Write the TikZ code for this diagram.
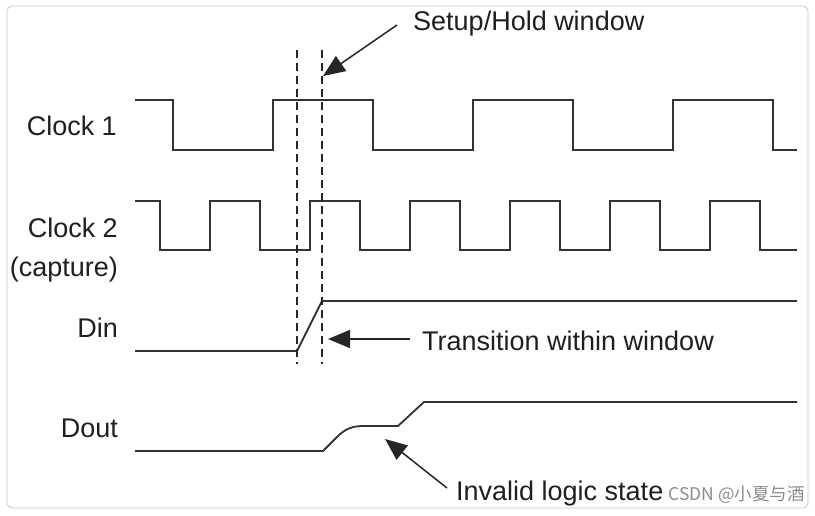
\documentclass[tikz,border=0pt]{standalone}
\usepackage{fontspec}
\setmainfont{Liberation Sans}
\newfontfamily\cjkfont{Noto Sans CJK SC}
\usetikzlibrary{arrows.meta}
\begin{document}
\begin{tikzpicture}[x=1pt,y=-1pt,
  wave/.style={line width=1.8pt,draw=black!80,line join=miter},
  winline/.style={line width=1.2pt,draw=black!85,dash pattern=on 8pt off 5pt},
  lbl/.style={font=\fontsize{27}{30}\selectfont,text=black!88,inner sep=0pt,anchor=base east},
  note/.style={font=\fontsize{27}{30}\selectfont,text=black!88,inner sep=0pt,anchor=base west},
  pointer/.style={line width=1.5pt,draw=black!85,-{Triangle[length=22pt,width=18pt]}}]
\useasboundingbox (0,0) rectangle (815,515);
\draw[black!22,line width=0.8pt,rounded corners=5pt] (7,6) rectangle (808,508);
% labels
\node[lbl] (c1) at (117,135) {Clock 1};
\node[lbl] (c2) at (118,237) {Clock 2};
\node[lbl] (cap) at (118,276) {(capture)};
\node[lbl] (din) at (118,337) {Din};
\node[lbl] (dout) at (118,437) {Dout};
% clock 1
\draw[wave] (135,100) -- (173,100) -- (173,150) -- (273,150) -- (273,100) -- (373,100) -- (373,150)
  -- (473,150) -- (473,100) -- (573,100) -- (573,150) -- (673,150) -- (673,100) -- (773,100) -- (773,150) -- (797,150);
% clock 2
\draw[wave] (135,201) -- (160,201)
  \foreach \k in {0,...,5} { -- ({160+100*\k},201) -- ({160+100*\k},250) -- ({210+100*\k},250) -- ({210+100*\k},201) }
  -- (760,201) -- (760,250) -- (797,250);
% din
\draw[wave] (135,351) -- (297,351) -- (322,301) -- (797,301);
% dout
\draw[wave] (135,451) -- (323,451) -- (337,437) .. controls (346,428) and (353,426) .. (364,426) -- (398,426) -- (424,402) -- (797,402);
% window lines
\coordinate (w1t) at (297,50); \coordinate (w1b) at (297,364);
\coordinate (w2t) at (322,50); \coordinate (w2b) at (322,364);
\draw[winline] (w1t) -- (w1b);
\draw[winline] (w2t) -- (w2b);
% annotations
\node[note] (setup) at (413,30) {Setup/Hold window};
\node[note] (trans) at (422,350) {Transition within window};
\node[note] (inval) at (456,500) {Invalid logic state};
\coordinate (setupstart) at (397,25);
\coordinate (setuptip) at (323,76);
\coordinate (transstart) at (410,339);
\coordinate (transtip) at (328,339);
\coordinate (invstart) at (447,488);
\coordinate (invtip) at (385,439);
\draw[pointer] (setupstart) -- (setuptip);
\draw[pointer] (transstart) -- (transtip);
\draw[pointer] (invstart) -- (invtip);
% watermark
\node[font=\cjkfont\fontsize{17.5}{20}\selectfont,text=black!45,inner sep=0pt,anchor=base east] (wm) at (805,500) {CSDN @小夏与酒};
\end{tikzpicture}
\end{document}
